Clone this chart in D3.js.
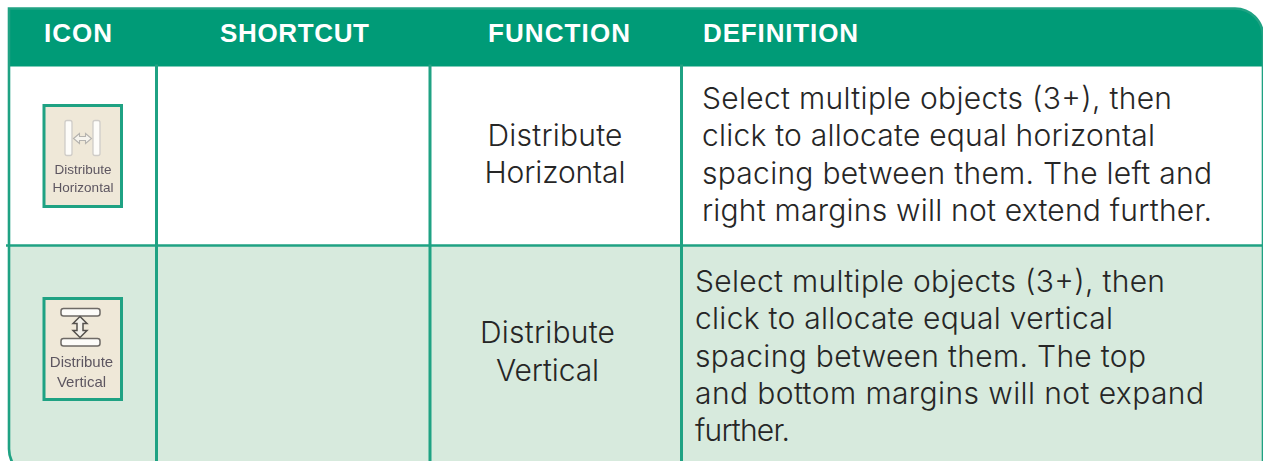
<!DOCTYPE html>
<html>
<head>
<meta charset="utf-8">
<script src="https://cdn.jsdelivr.net/npm/d3@7"></script>
<style>
  html, body { margin: 0; padding: 0; background: #fff; overflow: hidden; }
  svg { display: block; }
  text { font-family: "Liberation Sans", sans-serif; }
  .light { font-family: "Inter", "Liberation Sans", sans-serif; font-weight: 300; }
</style>
</head>
<body>
<div id="chart"></div>
<script>
/* Data
======================================================================= */
var headers = ['ICON', 'SHORTCUT', 'FUNCTION', 'DEFINITION'];
var headerX = [44, 220, 488, 703]; // left edge of each header label
var headerWidths = [68, 149, 142, 155];
var functionLines = [['Distribute', 'Horizontal'], ['Distribute', 'Vertical']];
var functionWidths = [[135, 141], [135, 103]];
var definitionLines = [
  ['Select multiple objects (3+), then',
   'click to allocate equal horizontal',
   'spacing between them. The left and',
   'right margins will not extend further.'],
  ['Select multiple objects (3+), then',
   'click to allocate equal vertical',
   'spacing between them. The top',
   'and bottom margins will not expand',
   'further.']
];
var definitionWidths = [
  [470, 453, 510, 510],
  [470, 418, 451, 509, 95]
];
var iconLabels = [['Distribute', 'Horizontal'], ['Distribute', 'Vertical']];

/* Layout
======================================================================= */
var W = 1263, H = 461,
    green = '#009b77',
    line = '#1fa283',
    tint = '#d7eadd',
    ink = '#262626',
    colEdges = [9, 156.5, 430, 681.5, 1300],
    rowEdges = [8.5, 66.5, 245.5, 480];

var svg = d3.select('#chart').append('svg').attr('width', W).attr('height', H);

var defs = svg.append('defs');
defs.append('clipPath').attr('id', 'table').append('path').attr('d', outline());
defs.append('filter').attr('id', 'soft').append('feGaussianBlur').attr('stdDeviation', 0.45);

function outline() {
  var x0 = colEdges[0], y0 = rowEdges[0], y1 = 477, r = 28;
  return 'M' + x0 + ',' + y0 +
    'H' + (W - r) + 'A' + r + ',' + r + ' 0 0 1 ' + W + ',' + (y0 + r) +
    'V' + y1 + 'H' + (x0 + r) + 'A' + r + ',' + r + ' 0 0 1 ' + x0 + ',' + (y1 - r) + 'Z';
}

var body = svg.append('g').attr('clip-path', 'url(#table)');

body.append('rect').attr('x', 0).attr('y', rowEdges[1]).attr('width', W).attr('height', rowEdges[2] - rowEdges[1]).attr('fill', '#fff');
body.append('rect').attr('x', 0).attr('y', rowEdges[2]).attr('width', W).attr('height', H + 20).attr('fill', tint);
body.append('rect').attr('x', 0).attr('y', 0).attr('width', W).attr('height', rowEdges[1]).attr('fill', green);

// Vertical rules
svg.selectAll('.vrule')
  .data(colEdges.slice(1, 4))
  .enter().append('line')
    .attr('class', 'vrule')
    .attr('x1', function(d) { return d; })
    .attr('x2', function(d) { return d; })
    .attr('y1', rowEdges[1] - 2)
    .attr('y2', H)
    .attr('stroke', line)
    .attr('stroke-width', 3);

// Row rule, pokes out a little on the left like the original
svg.append('line').attr('x1', 6).attr('x2', W).attr('y1', rowEdges[2]).attr('y2', rowEdges[2])
  .attr('stroke', line).attr('stroke-width', 2.6);

svg.append('path').attr('d', outline()).attr('fill', 'none').attr('stroke', line).attr('stroke-width', 2.6);

// Header labels
svg.selectAll('.head')
  .data(headers)
  .enter().append('text')
    .attr('class', 'head')
    .attr('x', function(d, i) { return headerX[i]; })
    .attr('y', 42)
    .attr('fill', '#fff')
    .attr('font-size', 26)
    .attr('font-weight', 700)
    .attr('textLength', function(d, i) { return headerWidths[i]; })
    .attr('lengthAdjust', 'spacing')
    .text(function(d) { return d; });

// Function column
var functionCx = [555, 547.5], functionY = [[146, 183], [343, 381]];
functionLines.forEach(function(lines, r) {
  svg.selectAll('.fn' + r)
    .data(lines)
    .enter().append('text')
      .attr('class', 'light')
      .attr('x', functionCx[r])
      .attr('y', function(d, i) { return functionY[r][i]; })
      .attr('text-anchor', 'middle')
      .attr('fill', ink)
      .attr('font-size', 30)
      .attr('textLength', function(d, i) { return functionWidths[r][i]; })
      .attr('lengthAdjust', 'spacing')
      .text(function(d) { return d; });
});

// Definition column, each line fitted to its measured width
var defX = [702, 695], defY = [[109, 146, 184, 221], [292, 329, 367, 404, 441]];
definitionLines.forEach(function(lines, r) {
  svg.selectAll('.def' + r)
    .data(lines)
    .enter().append('text')
      .attr('class', 'light')
      .attr('x', defX[r])
      .attr('y', function(d, i) { return defY[r][i]; })
      .attr('fill', ink)
      .attr('font-size', 30)
      .attr('textLength', function(d, i) { return definitionWidths[r][i]; })
      .attr('lengthAdjust', 'spacing')
      .text(function(d) { return d; });
});

/* Icons
======================================================================= */
var iconY = [105.5, 298.5];
iconY.forEach(function(y, r) {
  var g = svg.append('g').attr('transform', 'translate(44,' + y + ')');
  g.append('rect').attr('width', 77.5).attr('height', 101)
    .attr('fill', '#efe8d8').attr('stroke', line).attr('stroke-width', 3);
  var art = g.append('g').attr('filter', 'url(#soft)');
  art.selectAll('text')
    .data(iconLabels[r])
    .enter().append('text')
      .attr('x', r ? 37.5 : 39)
      .attr('y', function(d, i) { return r ? 68.5 + i * 20 : 68.5 + i * 17.5; })
      .attr('text-anchor', 'middle')
      .attr('fill', '#5d5660')
      .attr('font-size', r ? 15 : 13.5)
      .text(function(d) { return d; });

  if (r === 0) {
    // Two tall bars with a double arrow between
    [21, 49].forEach(function(x) {
      art.append('rect').attr('x', x).attr('y', 15).attr('width', 7).attr('height', 35).attr('rx', 2)
        .attr('fill', '#fdfcf9').attr('stroke', '#cfccc8').attr('stroke-width', 1.3);
    });
    art.append('path').attr('d', 'M29.5,33 l6,-5 v3 h6 v-3 l6,5 l-6,5 v-3 h-6 v3 Z')
      .attr('fill', '#f6f4ee').attr('stroke', '#b5b3af').attr('stroke-width', 1.1);
  } else {
    // Two wide bars with a double arrow between
    [10, 40].forEach(function(y2) {
      art.append('rect').attr('x', 17).attr('y', y2).attr('width', 39).attr('height', 7.5).attr('rx', 2.5)
        .attr('fill', '#fdfcf9').attr('stroke', '#6e6a66').attr('stroke-width', 1.5);
    });
    art.append('path').attr('d', 'M36,18 l7,7 h-4 v7 h4 l-7,7 l-7,-7 h4 v-7 h-4 l7,-7 Z')
      .attr('fill', '#f3f1ea').attr('stroke', '#55514d').attr('stroke-width', 1.5);
  }
});
</script>
</body>
</html>
